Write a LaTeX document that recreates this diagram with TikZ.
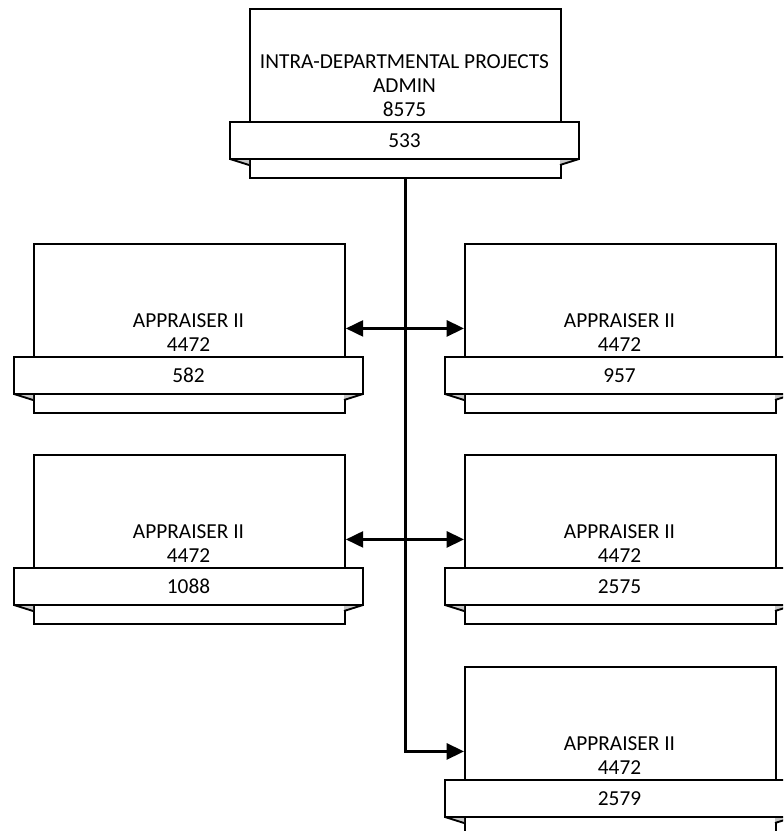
\documentclass[tikz,border=0pt]{standalone}
\usepackage{fontspec}
\setmainfont{Carlito}
\usetikzlibrary{arrows.meta}

% Position box: name, left x, top y, title, number (units are pixels, y grows downward)
\newcommand\orgpos[5]{%
  \node[posbox, anchor=north west] (#1) at (#2,#3) {};
  \fill[tabgray] ({#2-19},{#3+151}) -- (#2,{#3+151}) -- (#2,{#3+157}) -- cycle;
  \fill[tabgray] ({#2+330},{#3+151}) -- ({#2+311},{#3+151}) -- ({#2+311},{#3+157}) -- cycle;
  \draw[boxline] ({#2-19},{#3+151}) -- (#2,{#3+157});
  \draw[boxline] ({#2+330},{#3+151}) -- ({#2+311},{#3+157});
  \node[banner] (#1-num) at ({#2+155.5},{#3+132.5}) {#5};
  \node[titletext, anchor=south] (#1-title) at ({#2+155.5},{#3+109}) {#4};
}

\begin{document}
\begin{tikzpicture}[x=0.75pt, y=-0.75pt,
  boxline/.style={draw=black, line width=1.4pt},
  posbox/.style={boxline, fill=white, minimum width=233.25pt, minimum height=126.75pt, inner sep=0pt},
  banner/.style={boxline, fill=white, minimum width=261.75pt, minimum height=27.75pt, inner sep=0pt,
    font=\fontsize{16}{18}\selectfont},
  titletext/.style={align=center, inner sep=0pt, font=\fontsize{16}{18}\selectfont},
  tabgray/.style={fill=black!22},
  link/.style={draw=black, line width=2pt},
  tip/.style={-{Triangle[length=13pt, width=12pt]}},
  tips/.style={{Triangle[length=13pt, width=12pt]}-{Triangle[length=13pt, width=12pt]}}
]
\useasboundingbox (0,0) rectangle (783,831);
\clip (0,0) rectangle (783,831);

\orgpos{admin}{249}{8}{INTRA-DEPARTMENTAL PROJECTS\\ADMIN\\8575}{533}
\orgpos{apA}{33}{243}{APPRAISER II\\4472}{582}
\orgpos{apB}{464}{243}{APPRAISER II\\4472}{957}
\orgpos{apC}{33}{454}{APPRAISER II\\4472}{1088}
\orgpos{apD}{464}{454}{APPRAISER II\\4472}{2575}
\orgpos{apE}{464}{666}{APPRAISER II\\4472}{2579}

% reporting lines
\draw[link, tip] (admin.south) |- (apE.west);
\draw[link, tips] (apA.east) -- (apB.west);
\draw[link, tips] (apC.east) -- (apD.west);
\end{tikzpicture}
\end{document}
